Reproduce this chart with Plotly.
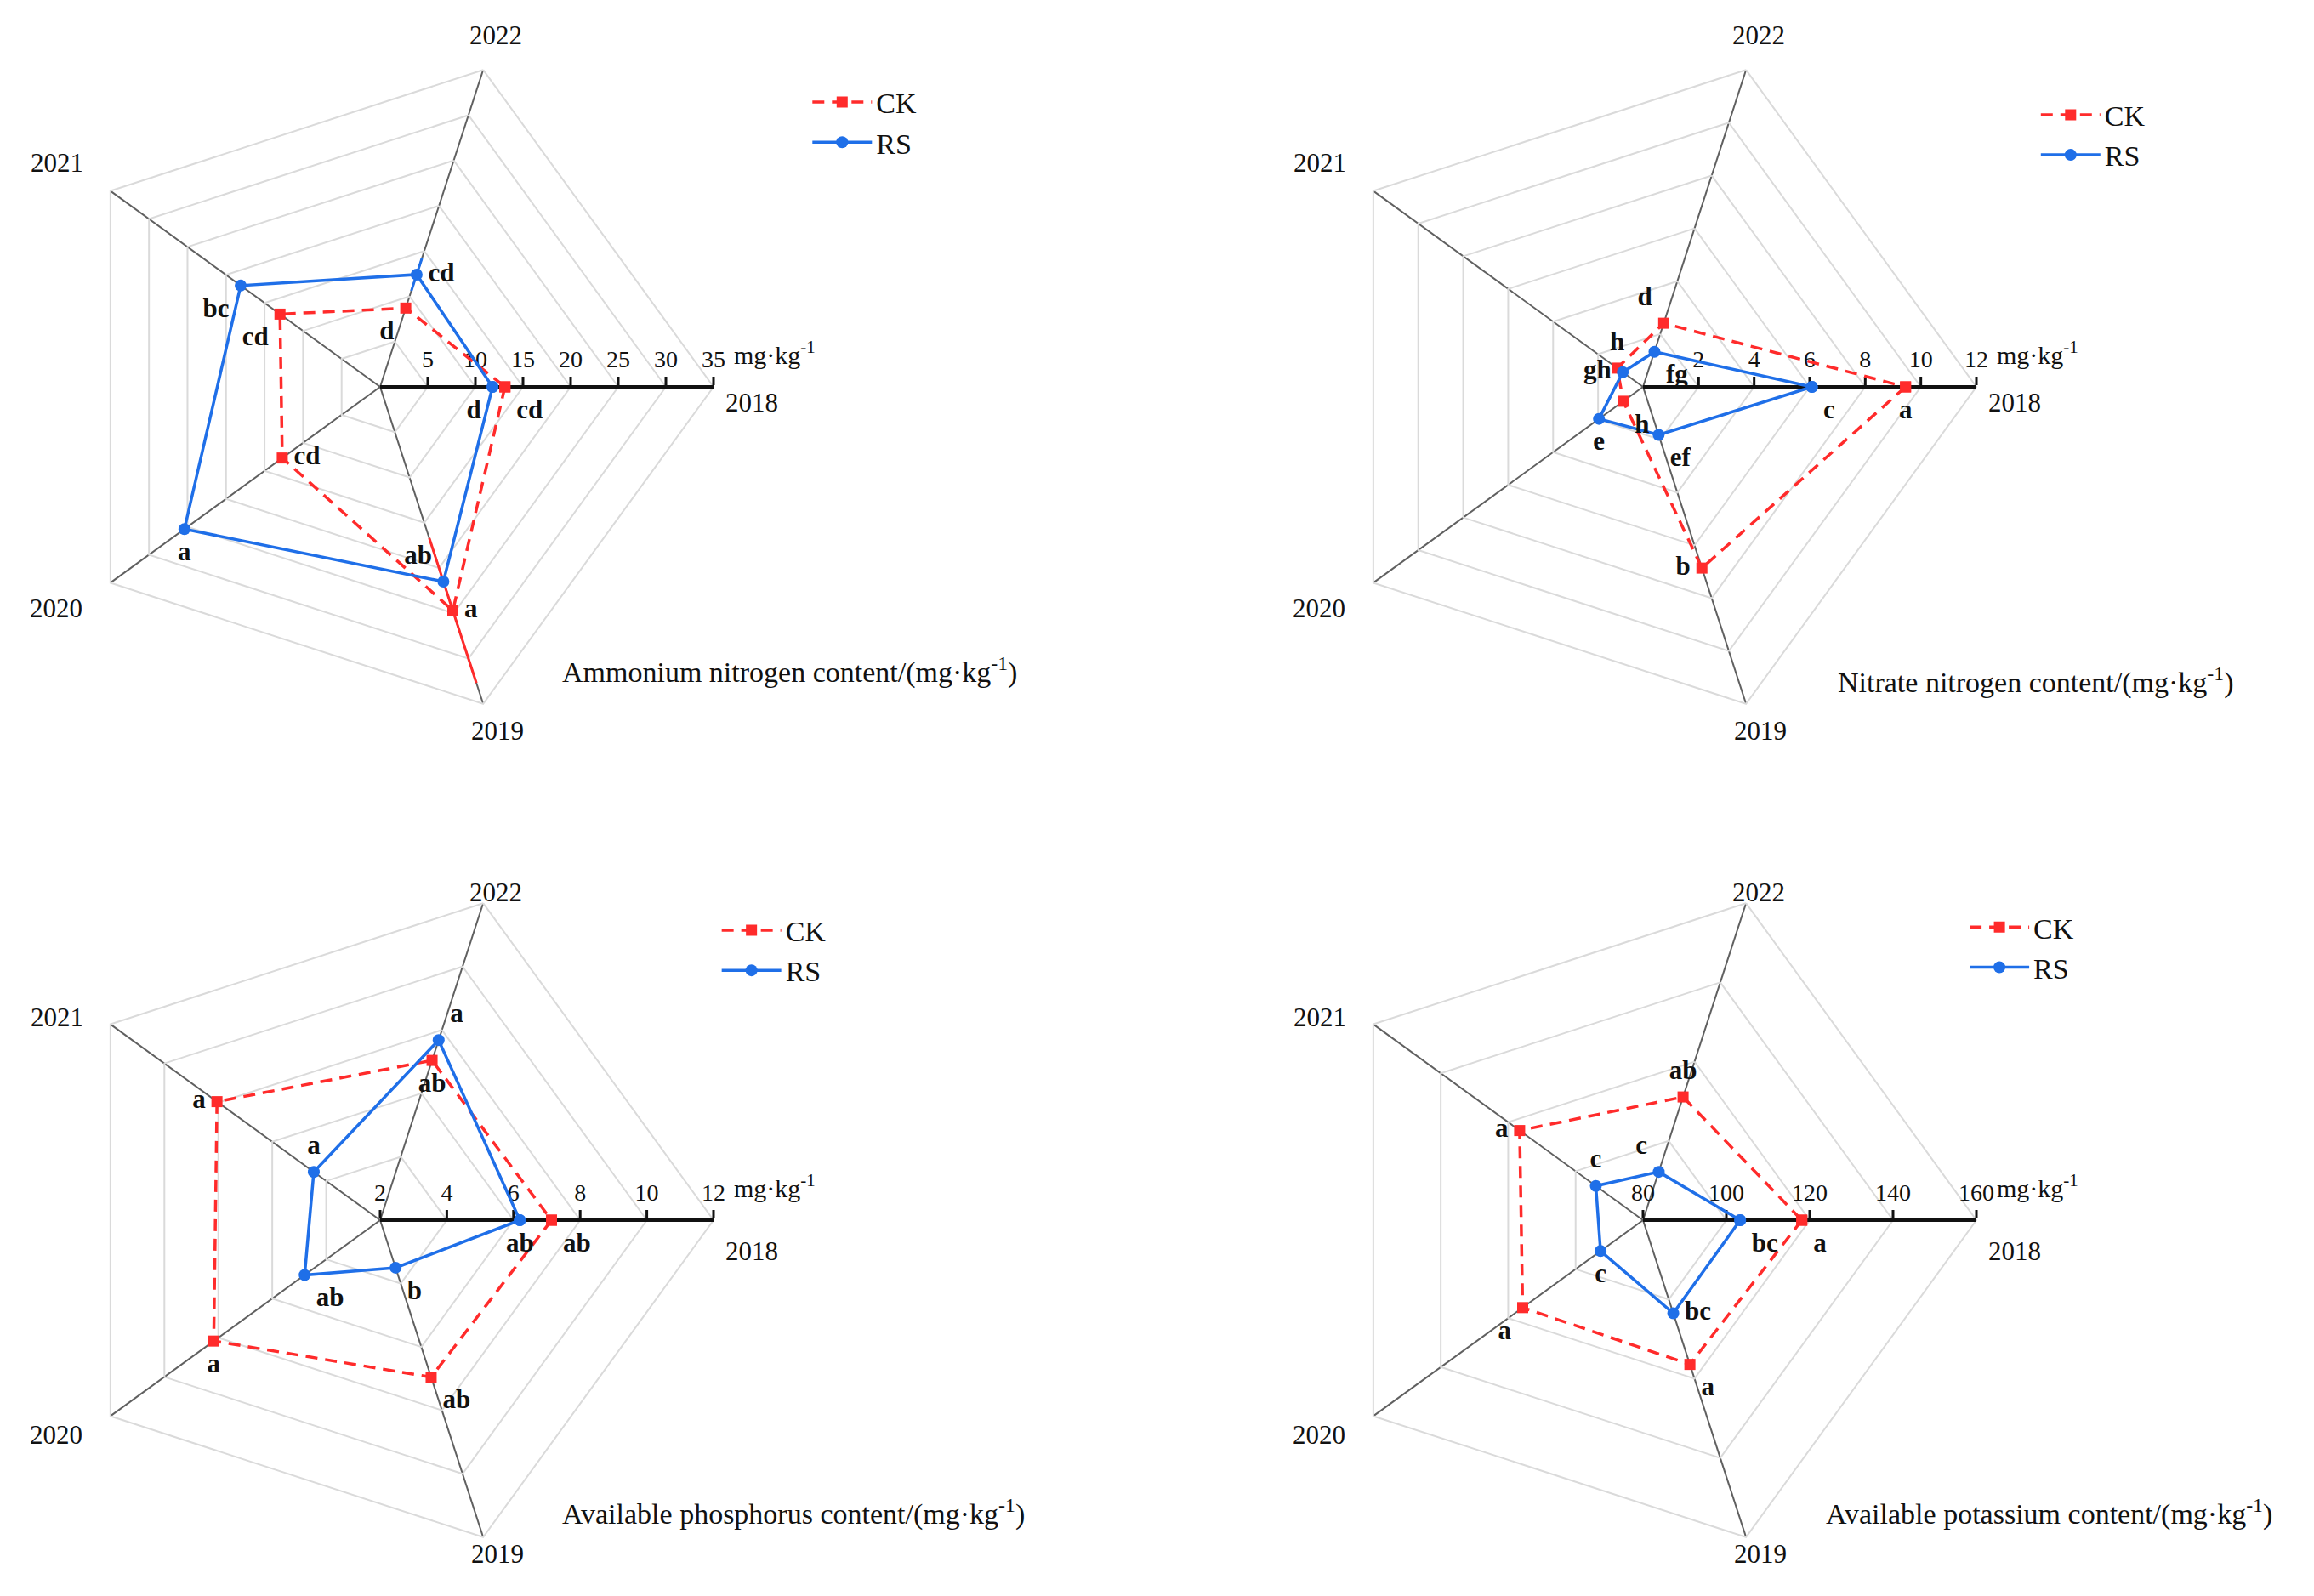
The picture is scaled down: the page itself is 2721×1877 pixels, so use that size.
import plotly.graph_objects as go

# ---------------- data ----------------
YEARS = ["2018", "2019", "2020", "2021", "2022"]

NH4_CK = [13.1, 24.7, 12.7, 13.0, 8.7]
NH4_RS = [11.8, 21.5, 25.4, 18.1, 12.4]
NH4_CK_ERR = [0, 8.0, 0, 0, 0]
NH4_RS_ERR = [0, 0, 0, 0, 1.8]
NH4_CK_LET = ["cd", "a", "cd", "cd", "d"]
NH4_RS_LET = ["d", "ab", "a", "bc", "cd"]
NH4_TICKS = [5, 10, 15, 20, 25, 30, 35]
NH4_RANGE = [0, 35]

NO3_CK = [9.45, 6.86, 0.88, 1.15, 2.41]
NO3_RS = [6.08, 1.82, 1.96, 0.90, 1.33]
NO3_CK_ERR = [0, 0, 0, 0, 0]
NO3_RS_ERR = [0, 0, 0, 0, 0]
NO3_CK_LET = ["a", "b", "h", "h", "d"]
NO3_RS_LET = ["c", "ef", "e", "gh", "fg"]
NO3_TICKS = [2, 4, 6, 8, 10, 12]
NO3_RANGE = [0, 12]

AP_CK = [7.14, 6.95, 8.17, 8.05, 7.04]
AP_RS = [6.19, 3.50, 4.80, 4.46, 7.68]
AP_CK_ERR = [0, 0, 0, 0, 0]
AP_RS_ERR = [0, 0, 0, 0, 0]
AP_CK_LET = ["ab", "ab", "a", "a", "ab"]
AP_RS_LET = ["ab", "b", "ab", "a", "a"]
AP_TICKS = [2, 4, 6, 8, 10, 12]
AP_RANGE = [2, 12]

AK_CK = [118.1, 116.4, 115.7, 116.6, 111.1]
AK_RS = [103.3, 103.5, 92.6, 94.0, 92.2]
AK_CK_ERR = [0, 0, 0, 0, 0]
AK_RS_ERR = [0, 0, 0, 0, 0]
AK_CK_LET = ["a", "a", "a", "a", "ab"]
AK_RS_LET = ["bc", "bc", "c", "c", "c"]
AK_TICKS = [80, 100, 120, 140, 160]
AK_RANGE = [80, 160]

TITLES = [
    "Ammonium nitrogen content/(mg·kg<sup>-1</sup>)",
    "Nitrate nitrogen content/(mg·kg<sup>-1</sup>)",
    "Available phosphorus content/(mg·kg<sup>-1</sup>)",
    "Available potassium content/(mg·kg<sup>-1</sup>)",
]
UNIT = "mg·kg<sup>-1</sup>"

# ---------------- style ----------------
SERIF = "Liberation Serif, Times New Roman, serif"
RED = "#FF2B2B"
BLUE = "#1F6FE8"
GRID = "#DADADA"
SPOKE = "#606060"

W, H = 2700, 1855
R = 392
CENTERS = [(439, 447), (1924, 447), (439, 1427), (1924, 1427)]
# pixel offsets of the year labels from each radar centre
YEAR_OFFSETS = {"2018": (437, 18), "2019": (138, 404), "2020": (-381, 260),
                "2021": (-380, -264), "2022": (136, -414)}
# extra vertical shift of the year labels for the lower row of panels
ROW2_YEAR_SHIFT = {"2018": 18, "2019": -12, "2020": -8, "2021": 25, "2022": 28}

# text positions of significance letters (2018, 2019, 2020, 2021, 2022)
POS = [
    (["bottom right", "middle right", "middle right", "bottom left", "bottom left"],
     ["bottom left", "top left", "bottom center", "bottom left", "middle right"]),
    (["bottom center", "middle left", "bottom right", "top center", "top left"],
     ["bottom right", "bottom right", "bottom center", "middle left", "bottom right"]),
    (["bottom right", "bottom right", "bottom center", "middle left", "bottom center"],
     ["bottom center", "bottom right", "bottom right", "top center", "top right"]),
    (["bottom right", "bottom right", "bottom left", "middle left", "top center"],
     ["bottom right", "middle right", "bottom center", "top center", "top left"]),
]

PANELS = [
    (NH4_CK, NH4_RS, NH4_CK_ERR, NH4_RS_ERR, NH4_CK_LET, NH4_RS_LET, NH4_TICKS, NH4_RANGE),
    (NO3_CK, NO3_RS, NO3_CK_ERR, NO3_RS_ERR, NO3_CK_LET, NO3_RS_LET, NO3_TICKS, NO3_RANGE),
    (AP_CK, AP_RS, AP_CK_ERR, AP_RS_ERR, AP_CK_LET, AP_RS_LET, AP_TICKS, AP_RANGE),
    (AK_CK, AK_RS, AK_CK_ERR, AK_RS_ERR, AK_CK_LET, AK_RS_LET, AK_TICKS, AK_RANGE),
]

LEGEND_POS = [(0.349, 0.955), (0.884, 0.947), (0.3095, 0.430), (0.853, 0.432)]
TITLE_POS = [(0.241, 0.5795), (0.7967, 0.573), (0.241, 0.0453), (0.7915, 0.0453)]

fig = go.Figure()


def closed(v):
    return list(v) + [v[0]]


def err_segments(vals, errs, lo, hi):
    r, th = [], []
    for v, e, y in zip(vals, errs, YEARS):
        if e > 0:
            r += [max(lo, v - e), min(hi, v + e), None]
            th += [y, y, None]
    return r, th


layout = {}
annotations = []
for i, (ck, rs, ck_e, rs_e, ck_l, rs_l, ticks, rng) in enumerate(PANELS):
    pk = "polar" if i == 0 else f"polar{i + 1}"
    lk = "legend" if i == 0 else f"legend{i + 1}"
    cx, cy = CENTERS[i]

    # error bars
    for vals, errs, col in ((ck, ck_e, RED), (rs, rs_e, BLUE)):
        er, et = err_segments(vals, errs, rng[0], rng[1])
        if er:
            fig.add_trace(go.Scatterpolar(
                r=er, theta=et, mode="lines", subplot=pk, showlegend=False,
                line=dict(color=col, width=3), hoverinfo="skip"))

    fig.add_trace(go.Scatterpolar(
        r=closed(ck), theta=closed(YEARS), mode="lines+markers", name="CK",
        subplot=pk, legend=lk,
        line=dict(color=RED, width=3.5, dash="14px,9px"),
        marker=dict(symbol="square", size=13, color=RED)))
    fig.add_trace(go.Scatterpolar(
        r=closed(rs), theta=closed(YEARS), mode="lines+markers", name="RS",
        subplot=pk, legend=lk,
        line=dict(color=BLUE, width=3.5),
        marker=dict(symbol="circle", size=14, color=BLUE)))

    # significance letters
    for vals, lets, pos in ((ck, ck_l, POS[i][0]), (rs, rs_l, POS[i][1])):
        fig.add_trace(go.Scatterpolar(
            r=vals, theta=YEARS, mode="markers+text", text=lets,
            textposition=pos, subplot=pk, showlegend=False, hoverinfo="skip",
            marker=dict(size=20, color="rgba(0,0,0,0)"),
            textfont=dict(family=SERIF, size=31, color="#111111", weight="bold")))

    layout[pk] = dict(
        domain=dict(x=[(cx - R) / W, (cx + R) / W],
                    y=[(H - cy - R) / H, (H - cy + R) / H]),
        bgcolor="white",
        gridshape="linear",
        radialaxis=dict(
            range=rng, tickvals=ticks, ticktext=[str(t) for t in ticks],
            angle=0, side="counterclockwise", showline=True, linecolor="#111111",
            linewidth=4, ticks="outside", ticklen=10, tickwidth=2.5,
            tickcolor="#111111", gridcolor=GRID, gridwidth=2, layer="below traces",
            tickfont=dict(family=SERIF, size=28, color="#111111")),
        angularaxis=dict(
            categoryarray=YEARS, type="category", rotation=0, direction="clockwise",
            gridcolor=SPOKE, gridwidth=2, showline=True, linecolor=GRID, linewidth=2,
            ticks="", layer="below traces", showticklabels=False),
    )

    lx, ly = LEGEND_POS[i]
    layout[lk] = dict(
        x=lx, y=ly, xanchor="left", yanchor="top", bgcolor="rgba(0,0,0,0)",
        font=dict(family=SERIF, size=34, color="#111111"), itemwidth=70,
        tracegroupgap=0)

    # year labels around the radar
    for y in YEARS:
        dx, dy = YEAR_OFFSETS[y]
        if i >= 2:
            dy += ROW2_YEAR_SHIFT[y]
        annotations.append(dict(
            text=y, x=(cx + dx) / W, y=(H - cy - dy) / H, xref="paper",
            yref="paper", xanchor="center", yanchor="middle", showarrow=False,
            font=dict(family=SERIF, size=31, color="#111111")))

    tx, ty = TITLE_POS[i]
    annotations.append(dict(
        text=TITLES[i], x=tx, y=ty, xref="paper", yref="paper", xanchor="left",
        yanchor="middle", showarrow=False,
        font=dict(family=SERIF, size=34, color="#111111")))
    annotations.append(dict(
        text=UNIT, x=(cx + R + 22) / W, y=(H - cy + 40) / H, xref="paper",
        yref="paper", xanchor="left", yanchor="middle", showarrow=False,
        font=dict(family=SERIF, size=30, color="#111111")))

fig.update_layout(
    width=W, height=H, margin=dict(l=0, r=0, t=0, b=0),
    paper_bgcolor="white", plot_bgcolor="white",
    annotations=annotations, **layout)

fig.write_html("out.html")
